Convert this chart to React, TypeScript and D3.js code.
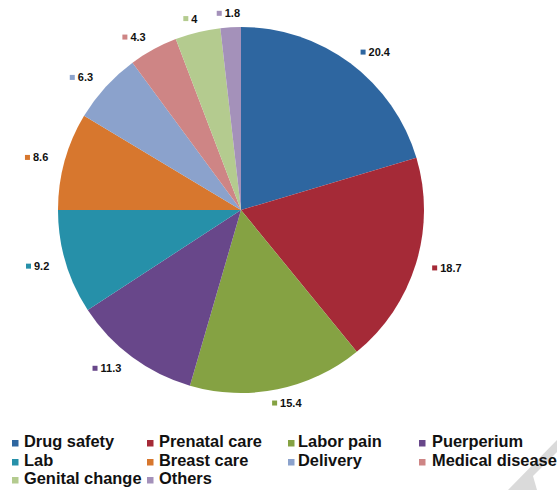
import React from "react";
import * as d3 from "d3";

const categories = ["Drug safety", "Prenatal care", "Labor pain", "Puerperium", "Lab", "Breast care", "Delivery", "Medical disease", "Genital change", "Others"];
const values = [20.4, 18.7, 15.4, 11.3, 9.2, 8.6, 6.3, 4.3, 4, 1.8];
const labels = ["20.4", "18.7", "15.4", "11.3", "9.2", "8.6", "6.3", "4.3", "4", "1.8"];
const colors = ["#2E66A0", "#A52A37", "#85A243", "#68478A", "#2690A9", "#D7772E", "#8BA2CC", "#CE8585", "#B4CB8F", "#A491BA"];

const W = 557, H = 490;
const cx = 241, cy = 210, R = 183;
const FONT = "'Liberation Sans', Arial, sans-serif";

export default function App() {
  const pie = d3.pie<number>().sort(null).value((d) => d);
  const arcs = pie(values);
  const arc = d3.arc<d3.PieArcDatum<number>>().innerRadius(0).outerRadius(R);

  const markerX = [12, 147, 288, 419];
  const textX = [24, 159, 298, 432];
  const baselines = [447, 466, 484];

  return (
    <svg width={W} height={H} style={{ position: "absolute", left: 0, top: 0, display: "block" }} fontFamily={FONT}>
      <rect width={W} height={H} fill="#fff" />
      <polygon points="508,490 557,440 557,452 533,476 537,490" fill="#DADADA" />
      <g transform={`translate(${cx},${cy})`}>
        {arcs.map((a, i) => (
          <path key={i} d={arc(a) || ""} fill={colors[i]} />
        ))}
      </g>
      {arcs.map((a, i) => {
        const mid = (a.startAngle + a.endAngle) / 2;
        const s = Math.sin(mid), c = Math.cos(mid);
        const ax = cx + 200 * s, ay = cy - 197 * c;
        const tw = labels[i].length * 6.1 - (labels[i].includes(".") ? 3 : 0);
        const w = 8 + tw;
        const f = Math.max(0, Math.min(1, (1 - 2 * s) / 2));
        const left = ax - w * f;
        return (
          <g key={i}>
            <rect x={left} y={ay - 2.5} width={5} height={5} fill={colors[i]} />
            <text x={left + 8} y={ay + 4} fontSize={11} fontWeight="bold" fill="#111">{labels[i]}</text>
          </g>
        );
      })}
      {categories.map((name, i) => {
        const col = i % 4, row = Math.floor(i / 4);
        const y = baselines[row];
        return (
          <g key={name}>
            <rect x={markerX[col]} y={y - 7} width={6.5} height={6.5} fill={colors[i]} />
            <text x={textX[col]} y={y} fontSize={16.4} fontWeight="bold" fill="#111">{name}</text>
          </g>
        );
      })}
    </svg>
  );
}
